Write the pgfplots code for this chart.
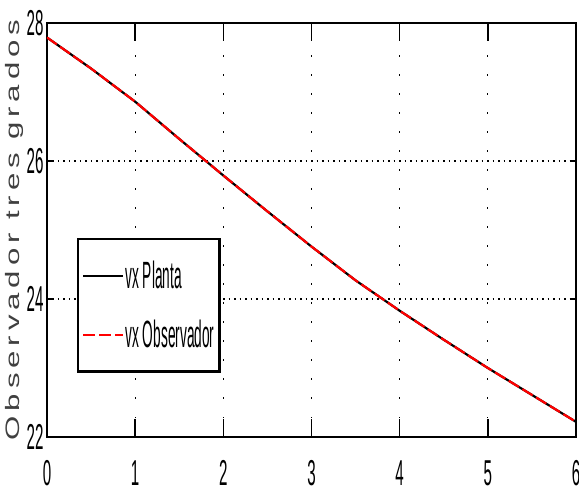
\documentclass[border=0pt]{standalone}
\usepackage{fontspec}
\setmainfont{Liberation Sans}
\newfontfamily\narrowfont[FakeStretch=0.42]{Liberation Sans}
\newfontfamily\legfont[FakeStretch=0.36]{Liberation Sans}
\newfontfamily\widefont[FakeStretch=1.6,LetterSpace=25]{Liberation Sans}
\usepackage{pgfplots}
\pgfplotsset{compat=1.18}
\begin{document}
\begin{tikzpicture}[x=1pt,y=1pt]
\begin{axis}[
  at={(47pt,59pt)}, anchor=south west,
  scale only axis, width=529pt, height=414pt,
  xmin=0, xmax=6, ymin=22, ymax=28,
  xtick={0,1,2,3,4,5,6}, ytick={22,24,26,28},
  minor xtick={0,1,2,3,4,5,6},
  tick align=inside,
  major tick length=6pt,
  minor tick length=18pt,
  xtick style={line width=1.5pt, black},
  ytick style={line width=1.5pt, black},
  minor tick style={line width=1.5pt, black},
  extra y ticks={24,26},
  extra y tick labels={},
  extra y tick style={grid=major, major grid style={black, line width=1.1pt, dash pattern=on 1.5pt off 4pt}},
  xmajorgrids=true, ymajorgrids=false, xminorgrids=false, yminorgrids=false,
  major grid style={black, line width=1.3pt, dash pattern=on 1.5pt off 17.5pt},
  axis line style={line width=2.5pt},
  /pgf/number format/assume math mode=true,
  ticklabel style={font=\narrowfont\fontsize{36}{40}\selectfont},
  xticklabel style={yshift=-20pt},
  ylabel={\widefont\fontsize{19.5}{22}\selectfont\color{black!75}Observador tres grados},
  ylabel style={yshift=-4pt},
  legend style={at={(0.0567,0.4807)}, anchor=north west, draw=black, line width=2.5pt,
    inner xsep=4pt, inner ysep=21pt,
    font=\legfont\fontsize{38}{42}\selectfont,
    row sep=28pt,
    nodes={inner sep=1pt}},
  legend image code/.code={\draw[#1] (0pt,0pt) -- (40pt,0pt);},
  legend cell align=left,
]
\addplot[black, line width=2.2pt] coordinates {
(0,27.79) (0.5,27.34) (1,26.86) (1.5,26.32) (2,25.79) (2.5,25.27) (3,24.76)
(3.5,24.27) (4,23.83) (4.5,23.41) (5,23.00) (5.5,22.61) (6,22.22)};
\addlegendentry{vx Planta}
\addplot[red, line width=2.2pt, dash pattern=on 12pt off 4pt] coordinates {
(0,27.79) (0.5,27.34) (1,26.86) (1.5,26.32) (2,25.79) (2.5,25.27) (3,24.76)
(3.5,24.27) (4,23.83) (4.5,23.41) (5,23.00) (5.5,22.61) (6,22.22)};
\addlegendentry{vx Observador}
\end{axis}
\pgfresetboundingbox
\useasboundingbox (0pt,0pt) rectangle (579pt,496pt);
\end{tikzpicture}
\end{document}
